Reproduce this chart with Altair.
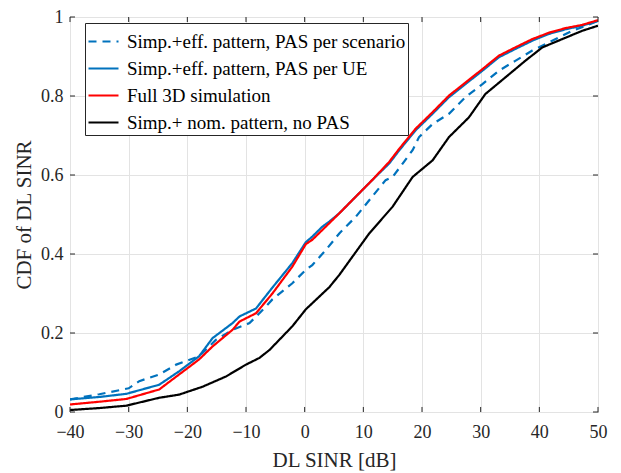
import altair as alt
import pandas as pd

# ---- data ----
series_names = [
    "Simp.+eff. pattern, PAS per scenario",
    "Simp.+eff. pattern, PAS per UE",
    "Full 3D simulation",
    "Simp.+ nom. pattern, no PAS",
]
series_colors = ["#0072BD", "#0072BD", "#FF0000", "#000000"]

dash_x = [-40, -35, -30, -28.2, -24.8, -21.9, -18, -15.1, -12.3, -9.4, -6.6, -5.5, -2.1, 0.2, 1.3,
          3.6, 5.9, 8.7, 11.5, 13.8, 15, 16.7, 18.4, 19.5, 21.8, 24.6, 27.4, 30.3, 33.1, 35.9,
          38.8, 41, 43.3, 45.6, 48, 50]
dash_y = [0.032, 0.045, 0.06, 0.078, 0.095, 0.12, 0.141, 0.183, 0.208, 0.225, 0.267, 0.285, 0.326,
          0.36, 0.372, 0.41, 0.452, 0.494, 0.545, 0.587, 0.595, 0.629, 0.663, 0.696, 0.729, 0.755,
          0.797, 0.83, 0.864, 0.889, 0.915, 0.931, 0.948, 0.965, 0.978, 0.99]

ue_x = [-40, -35, -30.4, -24.8, -21.4, -18, -15.7, -12.3, -11.1, -8.3, -5.5, -2.1, 0.2, 1.3, 3.0,
        4.2, 5.9, 8.7, 11.5, 14.4, 16.1, 18.9, 21.8, 24.6, 27.4, 30.3, 33.1, 35.9, 38.8, 41.6,
        44.5, 47.3, 50]
ue_y = [0.032, 0.038, 0.046, 0.069, 0.103, 0.141, 0.187, 0.225, 0.242, 0.262, 0.315, 0.377, 0.43,
        0.444, 0.469, 0.482, 0.503, 0.545, 0.587, 0.629, 0.662, 0.713, 0.755, 0.797, 0.83, 0.864,
        0.898, 0.919, 0.94, 0.957, 0.969, 0.978, 0.99]

full_x = [-40, -35, -30.4, -24.8, -21.4, -18, -15.7, -12.3, -11.1, -8.3, -5.5, -2.1, 0.2, 1.3,
          4.2, 5.9, 8.7, 11.5, 14.4, 16.1, 18.9, 21.8, 24.6, 27.4, 30.3, 33.1, 35.9, 38.8, 41.6,
          44.5, 47.3, 50]
full_y = [0.019, 0.026, 0.033, 0.057, 0.095, 0.133, 0.166, 0.208, 0.229, 0.25, 0.3, 0.368, 0.425,
          0.436, 0.478, 0.503, 0.545, 0.587, 0.633, 0.666, 0.717, 0.759, 0.801, 0.834, 0.868,
          0.902, 0.923, 0.944, 0.96, 0.972, 0.98, 0.992]

nom_x = [-40, -35, -30.4, -24.8, -21.4, -17.4, -13.4, -10, -7.7, -6.0, -2.1, 0.2, 4.2, 5.9, 11.0,
         15.0, 18.4, 21.8, 24.6, 28.0, 30.8, 34.2, 37.6, 40.5, 43.9, 47.3, 50]
nom_y = [0.005, 0.01, 0.016, 0.036, 0.044, 0.064, 0.09, 0.12, 0.137, 0.157, 0.217, 0.26, 0.316,
         0.347, 0.452, 0.52, 0.595, 0.637, 0.696, 0.746, 0.805, 0.847, 0.889, 0.923, 0.944,
         0.965, 0.978]

x_ticks = [-40, -30, -20, -10, 0, 10, 20, 30, 40, 50]
y_ticks = [0, 0.2, 0.4, 0.6, 0.8, 1]

# ---- build tables ----
frames = []
for name, xs, ys in zip(series_names, [dash_x, ue_x, full_x, nom_x], [dash_y, ue_y, full_y, nom_y]):
    frames.append(pd.DataFrame({"x": xs, "y": ys, "series": name}))
df = pd.concat(frames, ignore_index=True)

FONT = "Liberation Serif"
TXT = "#262626"

xscale = alt.Scale(domain=[-40, 50], nice=False, zero=False)
yscale = alt.Scale(domain=[0, 1], nice=False, zero=False)
xaxis = alt.Axis(values=x_ticks, title="DL SINR [dB]", labelFlush=False)
yaxis = alt.Axis(values=y_ticks, format="~g", title="CDF of DL SINR", labelFlush=False)

color_scale = alt.Scale(domain=series_names, range=series_colors)
dash_scale = alt.Scale(domain=series_names, range=[[8, 6], [1, 0], [1, 0], [1, 0]])

legend = alt.Legend(
    title=None, orient="none", legendX=15, legendY=6,
    fillColor="white", strokeColor=TXT, padding=2,
    symbolType="stroke", symbolSize=900, symbolStrokeWidth=2.2,
    labelFont=FONT, labelFontSize=19, labelFontWeight="normal", labelColor="black",
    labelOffset=7, rowPadding=-10.5, labelLimit=400,
)

lines = alt.Chart(df).mark_line(strokeWidth=2.2, clip=True).encode(
    x=alt.X("x:Q", scale=xscale, axis=xaxis),
    y=alt.Y("y:Q", scale=yscale, axis=yaxis),
    color=alt.Color("series:N", scale=color_scale, legend=legend),
    strokeDash=alt.StrokeDash("series:N", scale=dash_scale, legend=legend),
)

tx = pd.DataFrame({"t": x_ticks})
ty = pd.DataFrame({"t": y_ticks})
tick_len_y = 0.0127
tick_len_x = 0.85

bottom_ticks = alt.Chart(tx).mark_rule(color=TXT, strokeWidth=1).encode(
    x=alt.X("t:Q", scale=xscale, axis=xaxis), y=alt.datum(0), y2=alt.datum(tick_len_y))
top_ticks = alt.Chart(tx).mark_rule(color=TXT, strokeWidth=1).encode(
    x=alt.X("t:Q", scale=xscale, axis=xaxis), y=alt.datum(1), y2=alt.datum(1 - tick_len_y))
left_ticks = alt.Chart(ty).mark_rule(color=TXT, strokeWidth=1).encode(
    y=alt.Y("t:Q", scale=yscale, axis=yaxis), x=alt.datum(-40), x2=alt.datum(-40 + tick_len_x))
right_ticks = alt.Chart(ty).mark_rule(color=TXT, strokeWidth=1).encode(
    y=alt.Y("t:Q", scale=yscale, axis=yaxis), x=alt.datum(50), x2=alt.datum(50 - tick_len_x))

chart = alt.layer(
    lines, bottom_ticks, top_ticks, left_ticks, right_ticks
).properties(
    width=528, height=395,
    autosize=alt.AutoSizeParams(type="none"),
    padding={"left": 70, "top": 17, "right": 23, "bottom": 61},
).configure(
    font=FONT, background="white"
).configure_view(
    stroke=TXT, strokeWidth=1
).configure_axis(
    domain=False, ticks=False, tickSize=0,
    grid=True, gridColor="#e3e3e3", gridWidth=1,
    labelFont=FONT, labelFontSize=18, labelColor=TXT,
    titleFont=FONT, titleFontSize=21, titleColor=TXT, titleFontWeight="normal",
).configure_axisX(
    labelPadding=11, titlePadding=8,
).configure_axisY(
    labelPadding=7, titlePadding=6,
).configure_legend(
    labelFont=FONT, labelFontSize=19, labelFontWeight="normal",
)

chart.save("out.html", embed_options={"renderer": "svg", "actions": False})
